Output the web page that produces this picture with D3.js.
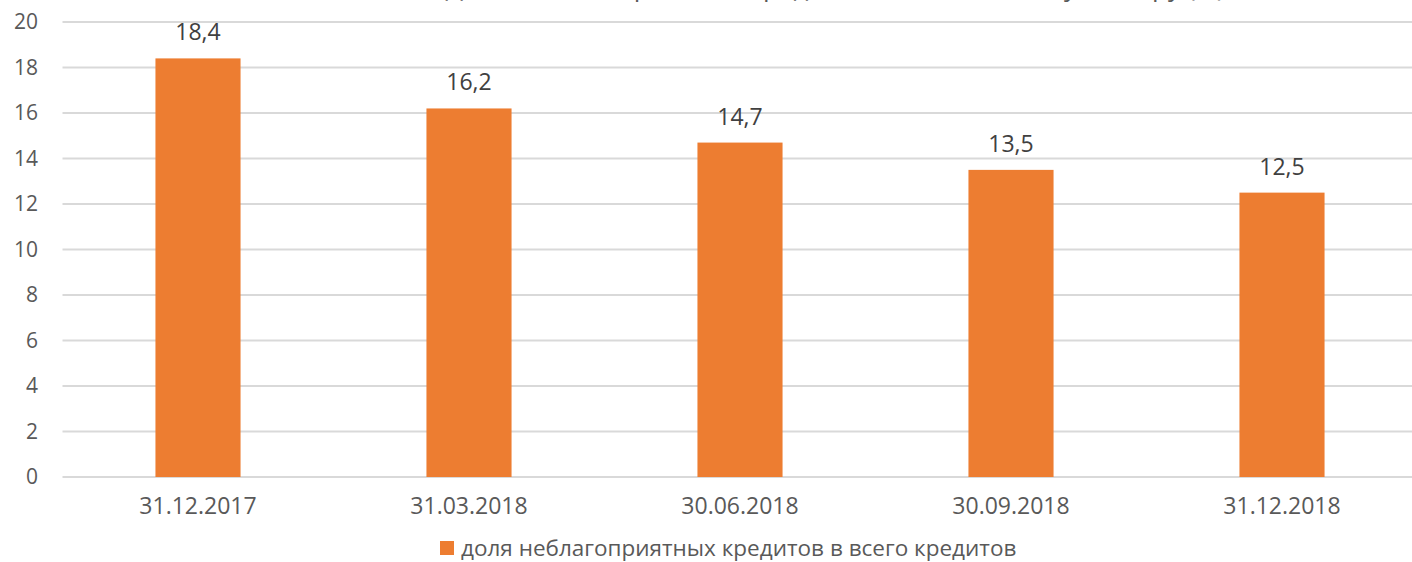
<!DOCTYPE html>
<html>
<head>
<meta charset="utf-8">
<script src="https://cdn.jsdelivr.net/npm/d3@7"></script>
<style>
  body { margin: 0; background: #fff; }
  svg { display: block; font-family: "Open Sans", sans-serif; }
</style>
</head>
<body>
<div id="chart"></div>
<script>
// data
const categories = ['31.12.2017', '31.03.2018', '30.06.2018', '30.09.2018', '31.12.2018'];
const values = [18.4, 16.2, 14.7, 13.5, 12.5];
const yTicks = [0, 2, 4, 6, 8, 10, 12, 14, 16, 18, 20];
const seriesName = 'доля неблагоприятных кредитов в всего кредитов';
const title = 'Доля неблагоприятных кредитов по банковскому сектору (%)';

const W = 1412, H = 562;
const margin = {top: 22, left: 62.5, bottom: 85};
const plotW = 1355;
const color = '#ED7D31', textColor = '#595959', gridColor = '#D9D9D9';

const svg = d3.select('#chart').append('svg')
    .attr('width', W)
    .attr('height', H)
    .attr('viewBox', `0 0 ${W} ${H}`);

const x = d3.scaleBand()
    .domain(categories)
    .range([margin.left, margin.left + plotW])
    .paddingInner(0.686)
    .paddingOuter(0.343);

const y = d3.scaleLinear()
    .domain([0, 20])
    .range([H - margin.bottom, margin.top]);

// title, cut off above the view as in the source image
svg.append('text')
    .attr('x', 835)
    .attr('y', -4)
    .attr('text-anchor', 'middle')
    .style('font-size', '26px')
    .style('fill', textColor)
    .text(title);

// grid
svg.append('g')
    .selectAll('line')
    .data(yTicks)
    .enter()
    .append('line')
    .attr('x1', margin.left)
    .attr('x2', W)
    .attr('y1', d => y(d))
    .attr('y2', d => y(d))
    .attr('stroke', gridColor)
    .attr('stroke-width', 2);

// y axis labels
const yAxis = svg.append('g')
    .attr('transform', 'translate(38,0)')
    .call(d3.axisLeft(y).tickValues(yTicks).tickSize(0).tickPadding(0));
yAxis.select('.domain').remove();
yAxis.selectAll('text')
    .style('font-size', '21px')
    .style('font-family', '"Open Sans", sans-serif')
    .attr('fill', textColor);

// bars
svg.append('g')
    .selectAll('rect')
    .data(values)
    .enter()
    .append('rect')
    .attr('x', (d, i) => x(categories[i]))
    .attr('y', d => y(d))
    .attr('width', x.bandwidth())
    .attr('height', d => y(0) - y(d))
    .attr('fill', color);

// value labels
svg.append('g')
    .selectAll('text')
    .data(values)
    .enter()
    .append('text')
    .attr('x', (d, i) => x(categories[i]) + x.bandwidth() / 2)
    .attr('y', d => y(d) - 18)
    .attr('text-anchor', 'middle')
    .style('font-size', '23px')
    .style('fill', '#404040')
    .text(d => String(d).replace('.', ','));

// x axis labels
const xAxis = svg.append('g')
    .attr('transform', `translate(0,${y(0)})`)
    .call(d3.axisBottom(x).tickSize(0).tickPadding(21));
xAxis.select('.domain').remove();
xAxis.selectAll('text')
    .style('font-size', '23px')
    .style('font-family', '"Open Sans", sans-serif')
    .attr('fill', textColor);

// legend
const legend = svg.append('g').attr('transform', 'translate(440,556)');
legend.append('rect')
    .attr('x', 0)
    .attr('y', -15)
    .attr('width', 14)
    .attr('height', 14)
    .attr('fill', color);
legend.append('text')
    .attr('x', 21)
    .attr('y', 0)
    .style('font-size', '22.5px')
    .style('fill', textColor)
    .text(seriesName);
</script>
</body>
</html>
